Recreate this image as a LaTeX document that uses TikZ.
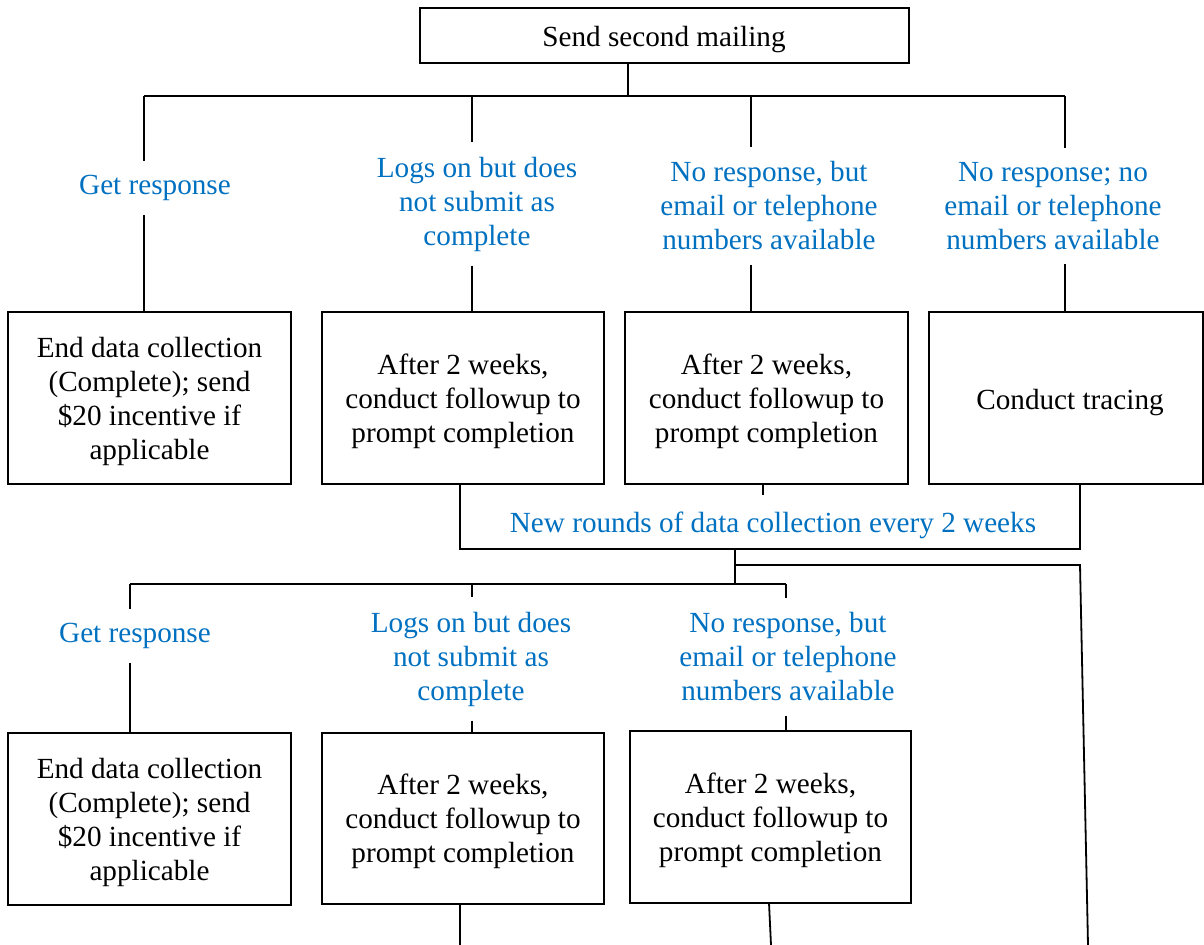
\documentclass[tikz,border=0pt]{standalone}
\usepackage{fontspec}
\setmainfont{Liberation Serif}
\definecolor{lblue}{HTML}{0070C0}
\newcommand{\topst}{\rule{0pt}{13.5pt}}
\begin{document}
\begin{tikzpicture}[x=0.5pt,y=-0.5pt,
  every node/.style={font=\fontsize{14.6}{17}\selectfont, align=center},
  box/.style={draw, line width=1pt, inner sep=0pt},
  lab/.style={text=lblue, inner sep=7pt},
  conn/.style={line width=0.9pt}]
\useasboundingbox (0,0) rectangle (1204,945);

% top
\node[box, minimum width=244.5pt, minimum height=27.5pt] (top) at (664,36) {\topst Send second mailing};
\coordinate (t0) at (628,96);
\coordinate (h1) at (144,96);
\coordinate (h2) at (472,96);
\coordinate (h3) at (751,96);
\coordinate (h4) at (1065,96);
\draw[conn] (top.south -| t0) -- (t0);
\draw[line width=1pt] (h1) -- (h4);

% row 1 labels
\node[lab] (l1) at (155,188) {Get response};
\node[lab] (l2) at (477,204) {Logs on but does\\not submit as\\complete};
\node[lab] (l3) at (769,206) {No response, but\\email or telephone\\numbers available};
\node[lab] (l4) at (1053,206) {No response; no\\email or telephone\\numbers available};

% row 1 boxes
\node[box, minimum width=141.5pt, minimum height=86pt] (b1) at (149.5,398) {\topst End data collection\\(Complete); send\\\$20 incentive if\\applicable};
\node[box, minimum width=141pt, minimum height=86pt] (b2) at (463,398) {\topst After 2 weeks,\\conduct followup to\\prompt completion};
\node[box, minimum width=141.5pt, minimum height=86pt] (b3) at (766.5,398) {\topst After 2 weeks,\\conduct followup to\\prompt completion};
\node[box, minimum width=137pt, minimum height=86pt] (b4) at (1066,398) {};
\node (b4t) at (1070,403) {Conduct tracing};

\draw[conn] (h1) -- (h1 |- l1.north);
\draw[conn] (h1 |- l1.south) -- (h1 |- b1.north);
\draw[conn] (h2) -- (h2 |- l2.north);
\draw[conn] (h2 |- l2.south) -- (h2 |- b2.north);
\draw[conn] (h3) -- (h3 |- l3.north);
\draw[conn] (h3 |- l3.south) -- (h3 |- b3.north);
\draw[conn] (h4) -- (h4 |- l4.north);
\draw[conn] (h4 |- l4.south) -- (h4 |- b4.north);

% new rounds
\coordinate (nl) at (460,549);
\coordinate (nr) at (1080,549);
\coordinate (nm) at (735,549);
\coordinate (ns) at (763,495);
\node[text=lblue, inner sep=0pt] (nrt) at (773,525) {New rounds of data collection every 2 weeks};
\draw[conn] (b2.south -| nl) -- (nl) -- (nr) -- (b4.south -| nr);
\draw[conn] (b3.south -| ns) -- (ns);

% row 2 connectors
\coordinate (r0) at (735,584);
\coordinate (rr) at (735,565);
\coordinate (rr2) at (1080,565);
\coordinate (re) at (1088,945);
\coordinate (g1) at (130,584);
\coordinate (g2) at (472,584);
\coordinate (g3) at (786,584);
\draw[conn] (nm) -- (r0);
\draw[conn] (rr) -- (rr2) -- (re);
\draw[conn] (g1) -- (g3);

\node[lab] (l5) at (135,636) {Get response};
\node[lab] (l6) at (471,659) {Logs on but does\\not submit as\\complete};
\node[lab] (l7) at (788,657) {No response, but\\email or telephone\\numbers available};

\node[box, minimum width=141.5pt, minimum height=86pt] (b5) at (149.5,819) {\topst End data collection\\(Complete); send\\\$20 incentive if\\applicable};
\node[box, minimum width=141pt, minimum height=85.5pt] (b6) at (463,818.5) {\topst After 2 weeks,\\conduct followup to\\prompt completion};
\node[box, minimum width=140.5pt, minimum height=86pt] (b7) at (770.5,817) {\topst After 2 weeks,\\conduct followup to\\prompt completion};

\draw[conn] (g1) -- (g1 |- l5.north);
\draw[conn] (g1 |- l5.south) -- (g1 |- b5.north);
\draw[conn] (g2) -- (g2 |- l6.north);
\draw[conn] (g2 |- l6.south) -- (g2 |- b6.north);
\draw[conn] (g3) -- (g3 |- l7.north);
\draw[conn] (g3 |- l7.south) -- (g3 |- b7.north);

% bottom exits
\coordinate (e1) at (460,945);
\coordinate (e2s) at (769,903);
\coordinate (e2) at (771,945);
\draw[conn] (b6.south -| e1) -- (e1);
\draw[conn] (e2s) -- (e2);
\end{tikzpicture}
\end{document}
